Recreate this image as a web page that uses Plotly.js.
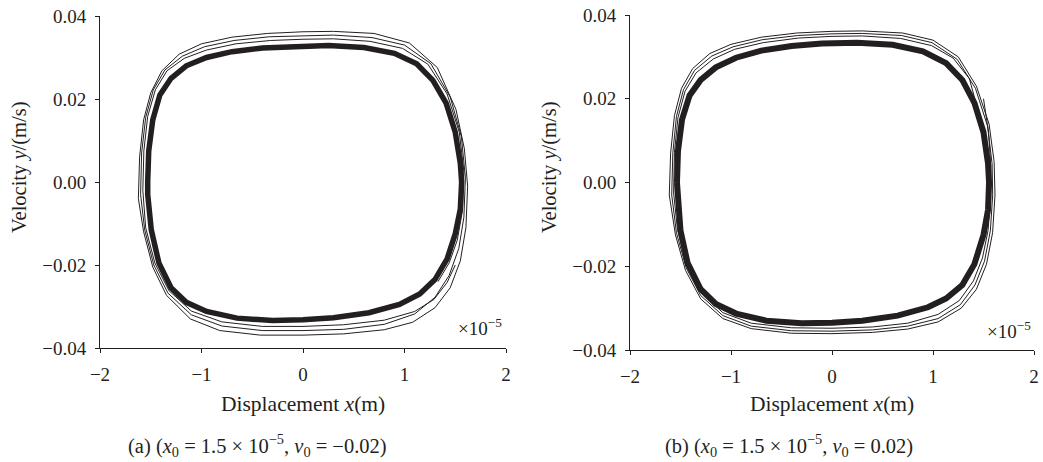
<!DOCTYPE html>
<html>
<head>
<meta charset="utf-8">
<script src="https://cdn.plot.ly/plotly-3.0.1.min.js"></script>
<style>
html,body{margin:0;padding:0;background:#fff;}
#chart{width:1043px;height:462px;}
</style>
</head>
<body>
<div id="chart"></div>
<script>
// ---------- Data (x in units of 1e-5 m, y in m/s) ----------
const xTicks = [-2, -1, 0, 1, 2];
const yTicks = [-0.04, -0.02, 0.00, 0.02, 0.04];

// Panel (a): converged limit-cycle band
const bandAx = [-1.530,-1.520,-1.480,-1.410,-1.300,-1.150,-0.950,-0.700,-0.400,-0.100,0.250,0.600,0.900,1.120,1.280,1.410,1.500,1.550,1.563,
  1.550,1.500,1.420,1.300,1.150,0.950,0.650,0.300,0.000,-0.300,-0.650,-0.950,-1.150,-1.300,-1.420,-1.495,-1.530,-1.530];
const bandAy = [0.0000,0.0075,0.0150,0.0210,0.0250,0.0280,0.0300,0.0314,0.0323,0.0327,0.0329,0.0324,0.0310,0.0285,0.0245,0.0190,0.0120,0.0045,0.0000,
  -0.0065,-0.0125,-0.0185,-0.0235,-0.0270,-0.0295,-0.0315,-0.0327,-0.0332,-0.0334,-0.0328,-0.0312,-0.0290,-0.0255,-0.0195,-0.0115,-0.0030,0.0000];

// Panel (a): outer transient loops
const outer1Ax = [-1.622,-1.610,-1.570,-1.500,-1.390,-1.220,-1.000,-0.700,-0.350,0.000,0.300,0.700,1.048,1.323,1.507,1.590,1.622,1.605,1.550,1.450,1.300,1.080,0.800,0.400,0.000,-0.420,-0.820,-1.110,-1.345,-1.480,-1.570,-1.622];
const outer1Ay = [-0.0040,0.0060,0.0150,0.0215,0.0268,0.0308,0.0333,0.0349,0.0358,0.0362,0.0363,0.0358,0.0335,0.0276,0.0175,0.0080,-0.0010,-0.0110,-0.0190,-0.0255,-0.0303,-0.0338,-0.0356,-0.0366,-0.0369,-0.0369,-0.0358,-0.0330,-0.0273,-0.0205,-0.0120,-0.0040];
const outer2Ax = [-1.600,-1.590,-1.550,-1.475,-1.360,-1.190,-0.970,-0.680,-0.330,0.000,0.300,0.680,1.000,1.260,1.450,1.560,1.600,1.585,1.535,1.440,1.300,1.100,0.800,0.400,0.000,-0.400,-0.800,-1.100,-1.330,-1.470,-1.560,-1.600];
const outer2Ay = [-0.0030,0.0070,0.0155,0.0222,0.0270,0.0303,0.0326,0.0341,0.0350,0.0353,0.0354,0.0348,0.0330,0.0285,0.0205,0.0110,0.0010,-0.0085,-0.0160,-0.0225,-0.0278,-0.0318,-0.0343,-0.0355,-0.0358,-0.0358,-0.0347,-0.0320,-0.0268,-0.0200,-0.0115,-0.0030];
// starts at (x0, v0) = (1.5e-5, -0.02)
const startAx = [1.500,1.420,1.290,1.100,0.800,0.400,0.000,-0.400,-0.800,-1.100,-1.320,-1.460,-1.550,-1.578,-1.568,-1.530,-1.455,-1.340,-1.170,-0.950,-0.660,-0.320,0.000,0.300,0.660,0.980,1.230,1.420,1.540,1.585,1.570,1.520,1.440,1.330];
const startAy = [-0.0200,-0.0242,-0.0283,-0.0312,-0.0333,-0.0344,-0.0348,-0.0348,-0.0337,-0.0311,-0.0262,-0.0195,-0.0110,-0.0020,0.0075,0.0158,0.0222,0.0268,0.0298,0.0318,0.0333,0.0341,0.0344,0.0345,0.0339,0.0322,0.0284,0.0212,0.0120,0.0025,-0.0070,-0.0140,-0.0195,-0.0240];

// Panel (b): converged limit-cycle band
const bandBx = [-1.535,-1.525,-1.485,-1.410,-1.300,-1.150,-0.950,-0.700,-0.400,-0.100,0.250,0.600,0.900,1.130,1.290,1.410,1.500,1.545,1.555,
  1.545,1.500,1.410,1.290,1.130,0.950,0.650,0.300,0.000,-0.300,-0.650,-0.950,-1.150,-1.300,-1.430,-1.500,-1.535,-1.535];
const bandBy = [0.0000,0.0075,0.0150,0.0208,0.0245,0.0275,0.0298,0.0315,0.0326,0.0332,0.0334,0.0329,0.0313,0.0285,0.0245,0.0190,0.0120,0.0045,0.0000,
  -0.0065,-0.0125,-0.0195,-0.0245,-0.0277,-0.0298,-0.0318,-0.0330,-0.0335,-0.0336,-0.0330,-0.0313,-0.0290,-0.0255,-0.0192,-0.0115,-0.0030,0.0000];

// Panel (b): outer transient loops
const outer1Bx = [-1.611,-1.598,-1.560,-1.490,-1.380,-1.210,-1.000,-0.700,-0.350,0.000,0.300,0.700,1.000,1.250,1.430,1.555,1.605,1.614,1.590,1.530,1.430,1.280,1.050,0.750,0.400,0.000,-0.400,-0.800,-1.080,-1.300,-1.450,-1.550,-1.611];
const outer1By = [-0.0030,0.0070,0.0160,0.0225,0.0272,0.0308,0.0330,0.0347,0.0357,0.0361,0.0362,0.0357,0.0340,0.0300,0.0230,0.0140,0.0050,-0.0030,-0.0120,-0.0195,-0.0255,-0.0300,-0.0333,-0.0350,-0.0358,-0.0361,-0.0360,-0.0349,-0.0325,-0.0278,-0.0210,-0.0125,-0.0030];
const outer2Bx = [-1.587,-1.576,-1.540,-1.470,-1.360,-1.190,-0.980,-0.690,-0.340,0.000,0.300,0.690,0.990,1.240,1.420,1.540,1.585,1.591,1.568,1.510,1.415,1.270,1.050,0.750,0.400,0.000,-0.400,-0.800,-1.080,-1.300,-1.445,-1.540,-1.587];
const outer2By = [-0.0030,0.0070,0.0158,0.0222,0.0268,0.0302,0.0324,0.0341,0.0351,0.0355,0.0356,0.0351,0.0334,0.0294,0.0225,0.0135,0.0045,-0.0030,-0.0115,-0.0188,-0.0245,-0.0292,-0.0325,-0.0343,-0.0352,-0.0355,-0.0354,-0.0343,-0.0318,-0.0270,-0.0203,-0.0120,-0.0030];
// starts at (x0, v0) = (1.5e-5, 0.02)
const startBx = [1.500,1.550,1.572,1.570,1.545,1.490,1.400,1.260,1.050,0.750,0.400,0.000,-0.400,-0.800,-1.080,-1.300,-1.440,-1.530,-1.568,-1.560,-1.525,-1.455,-1.345,-1.175,-0.965,-0.680,-0.330,0.000,0.300,0.680,0.985,1.200,1.360,1.420];
const startBy = [0.0200,0.0120,0.0040,-0.0040,-0.0115,-0.0180,-0.0235,-0.0282,-0.0315,-0.0336,-0.0345,-0.0348,-0.0347,-0.0336,-0.0311,-0.0262,-0.0196,-0.0112,-0.0025,0.0072,0.0155,0.0218,0.0262,0.0295,0.0318,0.0334,0.0345,0.0349,0.0350,0.0344,0.0327,0.0297,0.0248,0.0195];

// ---------- Figure ----------
const W = 1043, H = 462;
const INK = '#231f20';
const FONT = '"Liberation Serif", "Times New Roman", serif';
const px = v => v / W;
const py = v => 1 - v / H;

function line(x, y, xa, ya, w) {
  return {x: x, y: y, xaxis: xa, yaxis: ya, type: 'scatter', mode: 'lines',
          line: {color: INK, width: w}, hoverinfo: 'skip', showlegend: false};
}

const traces = [
  line(outer1Ax, outer1Ay, 'x', 'y', 1),
  line(outer2Ax, outer2Ay, 'x', 'y', 1),
  line(startAx, startAy, 'x', 'y', 1),
  line(bandAx, bandAy, 'x', 'y', 5.5),
  line(outer1Bx, outer1By, 'x2', 'y2', 1),
  line(outer2Bx, outer2By, 'x2', 'y2', 1),
  line(startBx, startBy, 'x2', 'y2', 1),
  line(bandBx, bandBy, 'x2', 'y2', 6)
];

function xAxis(dom, anchor) {
  return {domain: dom, anchor: anchor, range: [-2, 2], tickvals: xTicks,
    ticks: 'outside', ticklen: 4, tickwidth: 1, tickcolor: INK,
    showline: true, linecolor: INK, linewidth: 1, showgrid: false, zeroline: false,
    ticklabelstandoff: 5,
    tickfont: {family: FONT, size: 19, color: INK}, fixedrange: true};
}
function yAxis(dom, anchor) {
  return {domain: dom, anchor: anchor, range: [-0.04, 0.04], tickvals: yTicks, tickformat: '.2f',
    ticks: 'outside', ticklen: 4, tickwidth: 1, tickcolor: INK,
    showline: true, linecolor: INK, linewidth: 1, showgrid: false, zeroline: false,
    ticklabelstandoff: 5,
    tickfont: {family: FONT, size: 19, color: INK}, fixedrange: true};
}

function txt(text, x, y, size, opts) {
  return Object.assign({text: text, xref: 'paper', yref: 'paper', x: px(x), y: py(y),
    xanchor: 'center', yanchor: 'middle', showarrow: false,
    font: {family: FONT, size: size, color: INK}}, opts || {});
}

const annotations = [
  txt('Displacement <i>x</i>(m)', 303, 404, 21.5),
  txt('Displacement <i>x</i>(m)', 832, 404, 21.5),
  txt('Velocity <i>y</i>/(m/s)', 19, 167, 20.5, {textangle: -90}),
  txt('Velocity <i>y</i>/(m/s)', 549, 167, 20.5, {textangle: -90}),
  txt('×10<sup>−5</sup>', 504, 327, 19, {xanchor: 'right'}),
  txt('×10<sup>−5</sup>', 1033, 330, 19, {xanchor: 'right'}),
  txt('(a) (<i>x</i><sub>0</sub> = 1.5 × 10<sup>−5</sup>, <i>v</i><sub>0</sub> = −0.02)', 257, 445, 20.5),
  txt('(b) (<i>x</i><sub>0</sub> = 1.5 × 10<sup>−5</sup>, <i>v</i><sub>0</sub> = 0.02)', 789, 445, 20.5)
];

const layout = {
  width: W, height: H,
  margin: {l: 0, r: 0, t: 0, b: 0},
  paper_bgcolor: '#ffffff', plot_bgcolor: '#ffffff',
  showlegend: false,
  xaxis: xAxis([px(100), px(506)], 'y'),
  yaxis: yAxis([py(348), py(16)], 'x'),
  xaxis2: xAxis([px(630), px(1034)], 'y2'),
  yaxis2: yAxis([py(350), py(15)], 'x2'),
  annotations: annotations
};

Plotly.newPlot('chart', traces, layout, {displayModeBar: false, staticPlot: true});
</script>
</body>
</html>
